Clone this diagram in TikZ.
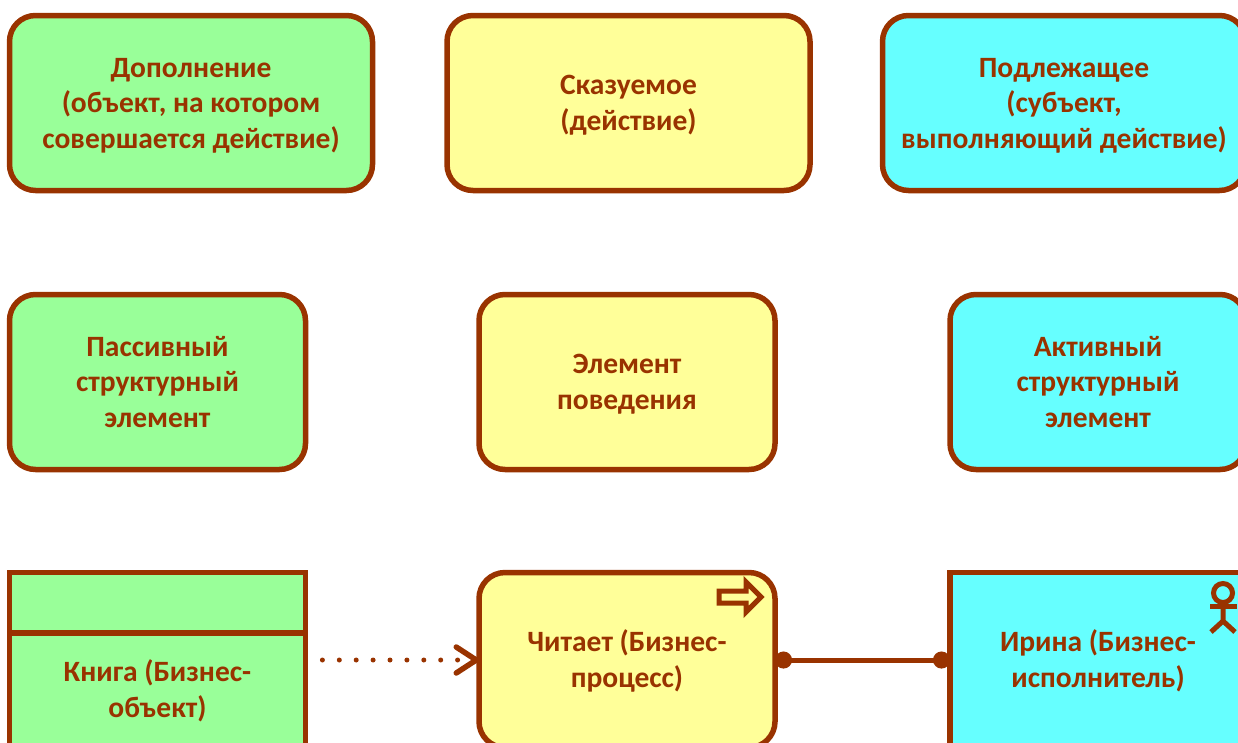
\documentclass[tikz,border=0pt]{standalone}
\usepackage{fontspec}
\setmainfont{Carlito}
\usetikzlibrary{arrows.meta}
\definecolor{brn}{HTML}{993300}
\definecolor{grn}{HTML}{99FF99}
\definecolor{yel}{HTML}{FFFF99}
\definecolor{cyn}{HTML}{66FFFF}
\newcommand\tp{\rule{0pt}{29.85pt}}
\newcommand\bt{\rule[-10.65pt]{0pt}{10.65pt}}
\tikzset{
  elem/.style={draw=brn,line width=5.5pt,rounded corners=26pt,align=center,text=brn,
    font=\fontsize{29.5}{35.5}\selectfont\bfseries,inner sep=0pt,minimum height=175pt,outer sep=0pt},
  big/.style={elem,minimum width=363pt},
  small/.style={elem,minimum width=296pt},
  sharp/.style={elem,rounded corners=0pt},
  label/.style={text=brn,align=center,font=\fontsize{29.5}{35.5}\selectfont\bfseries,inner sep=0pt},
  icon/.style={draw=brn,line width=5pt},
}
\begin{document}
\begin{tikzpicture}[x=1pt,y=-1pt]
\useasboundingbox (0,0) rectangle (1238,742);
\clip (0,0) rectangle (1238,742);
\node[big,fill=grn] (dop) at (191,103) {\tp Дополнение\\(объект, на котором\\совершается действие)\bt};
\node[big,fill=yel] (sk) at (628.5,103) {\tp Сказуемое\\(действие)\bt};
\node[big,fill=cyn] (pod) at (1064,103) {\tp Подлежащее\\(субъект,\\выполняющий действие)\bt};
\node[small,fill=grn] (pas) at (157.5,382) {\tp Пассивный\\структурный\\элемент\bt};
\node[small,fill=yel] (el) at (627,382) {\tp Элемент\\поведения\bt};
\node[small,fill=cyn] (act) at (1098,382) {\tp Активный\\структурный\\элемент\bt};
\node[small,sharp,fill=grn] (book) at (157.5,660) {};
\node[small,fill=yel] (proc) at (627,660) {\tp Читает (Бизнес-\\процесс)\bt};
\node[small,sharp,fill=cyn] (iri) at (1098,660) {\tp Ирина (Бизнес-\\исполнитель)\bt};
\node[label] (bookt) at (157.5,690) {\tp Книга (Бизнес-\\объект)\bt};
\coordinate (hl) at (book.west |- 0,633);
\coordinate (hr) at (book.east |- 0,633);
\draw[brn,line width=5.5pt] (hl) -- (hr);
\draw[brn,line width=5pt,line cap=round,dash pattern=on 0pt off 16.9pt,dash phase=0pt,
  shorten <=16.9pt,
  -{Straight Barb[length=20pt,width=26pt,round,line width=5.5pt,line cap=round]}] (book) -- (proc);
\draw[brn,line width=5pt,{Circle[length=17pt]}-{Circle[length=17pt]}] (proc) -- (iri);
% process icon
\draw[icon,fill=yel,miter limit=10] (719,591) -- (746,591) -- (746,582) -- (761,597) -- (746,612) -- (746,603) -- (719,603) -- cycle;
% actor icon
\draw[icon] (1223,593) circle (9.5);
\draw[icon] (1210,606) -- (1237,606);
\draw[icon] (1223,603) -- (1223,621) (1211,632) -- (1223,621) -- (1235,632);
\end{tikzpicture}
\end{document}
